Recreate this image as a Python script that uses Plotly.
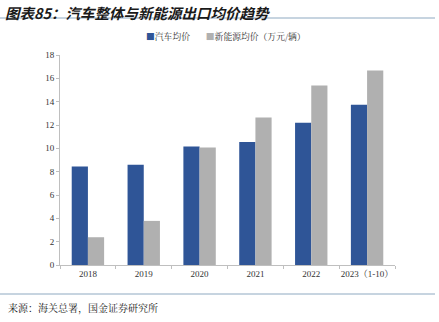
import plotly.graph_objects as go

years = ["2018", "2019", "2020", "2021", "2022", "2023（1-10）"]
car_avg = [8.45, 8.6, 10.15, 10.55, 12.2, 13.73]
nev_avg = [2.38, 3.78, 10.07, 12.64, 15.39, 16.68]
series_names = ["汽车均价", "新能源均价（万元/辆）"]
series_colors = ["#2F5597", "#B0B0B0"]
yticks = [0, 2, 4, 6, 8, 10, 12, 14, 16, 18]

serif = "Liberation Serif, Noto Serif CJK SC, Noto Sans CJK SC, serif"

fig = go.Figure()
for name, vals, col in zip(series_names, [car_avg, nev_avg], series_colors):
    fig.add_trace(go.Bar(x=years, y=vals, name=name,
                         marker=dict(color=col, line=dict(width=0))))

fig.update_layout(
    width=439, height=322,
    margin=dict(l=60, r=44, t=55, b=57),
    paper_bgcolor="white", plot_bgcolor="white",
    barmode="group", bargap=0.42, bargroupgap=0,
    font=dict(family=serif, size=9, color="#333333"),
    showlegend=False,
    xaxis=dict(showline=True, linecolor="#BFBFBF", linewidth=1,
               ticks="outside", ticklen=3, tickcolor="#BFBFBF",
               tickson="boundaries", showgrid=False, tickangle=0,
               tickfont=dict(size=9, color="#333333", family=serif)),
    yaxis=dict(range=[0, 18], tickvals=yticks, showline=True, linecolor="#BFBFBF",
               linewidth=1, ticks="outside", ticklen=3, tickcolor="#BFBFBF",
               showgrid=False, zeroline=False,
               tickfont=dict(size=9, color="#333333", family=serif)),
)

legend_text = (f"<span style='color:{series_colors[0]}'>■</span>{series_names[0]}"
               f"       <span style='color:{series_colors[1]}'>■</span>{series_names[1]}")
fig.add_annotation(text=legend_text, xref="paper", yref="paper",
                   x=(144 - 60)/335, y=1 + (55 - 36)/210, xanchor="left", yanchor="middle",
                   showarrow=False,
                   font=dict(size=8.8, color="#333333", family="Noto Serif CJK SC, Noto Sans CJK SC"))

fig.add_annotation(text="<b><i>图表85：汽车整体与新能源出口均价趋势</i></b>",
                   xref="paper", yref="paper", x=-56/335, y=1 + (55 - 0.5) / 210,
                   xanchor="left", yanchor="top", showarrow=False, borderpad=0,
                   font=dict(size=14.5, color="#1a1a1a", family="Noto Sans CJK SC"))
fig.add_shape(type="line", xref="paper", yref="paper",
              x0=-60/335, x1=(435 - 60)/335, y0=1 + (55 - 18)/210, y1=1 + (55 - 18)/210,
              line=dict(color="#8EA9C1", width=1))
fig.add_shape(type="line", xref="paper", yref="paper",
              x0=-60/335, x1=(435 - 60)/335, y0=-(294 - 265)/210, y1=-(294 - 265)/210,
              line=dict(color="#8EA9C1", width=1))
fig.add_annotation(text="来源：海关总署，国金证券研究所",
                   xref="paper", yref="paper", x=-54/335, y=-(307 - 265)/210,
                   xanchor="left", yanchor="middle", showarrow=False,
                   font=dict(size=10, color="#1a1a1a", family="Noto Serif CJK SC, Noto Sans CJK SC"))

fig.write_html("out.html")
